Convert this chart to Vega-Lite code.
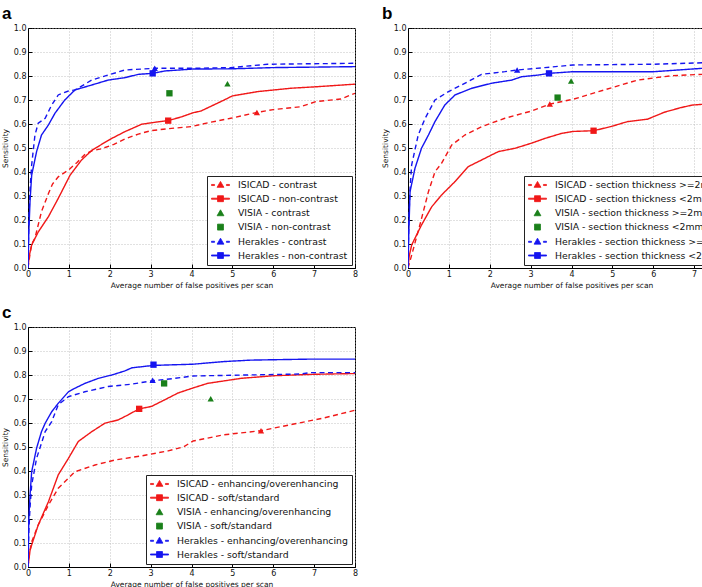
{
  "$schema": "https://vega.github.io/schema/vega-lite/v6.json",
  "background": "white",
  "autosize": {"type": "pad"},
  "padding": {"left": 0, "top": 4, "right": 0, "bottom": 0},
  "spacing": 14,
  "config": {
    "view": {"stroke": "#000", "strokeWidth": 1},
    "axis": {
      "domainColor": "#000", "tickColor": "#000", "tickSize": -4, "labelPadding": 6,
      "labelFont": "DejaVu Sans", "labelFontSize": 8, "labelColor": "#111",
      "labelOverlap": false, "labelFlush": false,
      "titleFont": "DejaVu Sans", "titleFontSize": 7.5, "titleFontWeight": "normal", "titleColor": "#111",
      "gridColor": "#b4b4b4", "gridDash": [1, 2], "gridWidth": 0.8
    },
    "legend": {
      "orient": "bottom-right", "offset": 3, "padding": 4,
      "strokeColor": "#222", "fillColor": "#fff", "cornerRadius": 0,
      "labelFont": "DejaVu Sans", "labelFontSize": 9.3, "labelColor": "#111", "labelLimit": 300,
      "symbolOffset": 4.5, "labelOffset": 12.5, "rowPadding": 2.7, "symbolSize": 81, "symbolStrokeWidth": 0.8
    },
    "title": {
      "font": "Liberation Sans", "fontSize": 17, "fontWeight": "bold", "color": "#000",
      "anchor": "start", "frame": "group", "dx": -26, "offset": 1, "baseline": "alphabetic"
    }
  },
  "datasets": {
    "aLines": [
      {"s": "ISICAD - contrast", "x": 0, "y": 0}, {"s": "ISICAD - contrast", "x": 0.05, "y": 0.06}, {"s": "ISICAD - contrast", "x": 0.09, "y": 0.1}, {"s": "ISICAD - contrast", "x": 0.17, "y": 0.124}, {"s": "ISICAD - contrast", "x": 0.25, "y": 0.18}, {"s": "ISICAD - contrast", "x": 0.33, "y": 0.235}, {"s": "ISICAD - contrast", "x": 0.5, "y": 0.31}, {"s": "ISICAD - contrast", "x": 0.6, "y": 0.35}, {"s": "ISICAD - contrast", "x": 0.74, "y": 0.38}, {"s": "ISICAD - contrast", "x": 0.99, "y": 0.408}, {"s": "ISICAD - contrast", "x": 1.2, "y": 0.44}, {"s": "ISICAD - contrast", "x": 1.4, "y": 0.475}, {"s": "ISICAD - contrast", "x": 1.56, "y": 0.488}, {"s": "ISICAD - contrast", "x": 1.8, "y": 0.497}, {"s": "ISICAD - contrast", "x": 2.1, "y": 0.515}, {"s": "ISICAD - contrast", "x": 2.4, "y": 0.54}, {"s": "ISICAD - contrast", "x": 2.7, "y": 0.558}, {"s": "ISICAD - contrast", "x": 3.0, "y": 0.572}, {"s": "ISICAD - contrast", "x": 3.4, "y": 0.58}, {"s": "ISICAD - contrast", "x": 3.99, "y": 0.589}, {"s": "ISICAD - contrast", "x": 4.4, "y": 0.605}, {"s": "ISICAD - contrast", "x": 4.96, "y": 0.624}, {"s": "ISICAD - contrast", "x": 5.6, "y": 0.648}, {"s": "ISICAD - contrast", "x": 6.0, "y": 0.66}, {"s": "ISICAD - contrast", "x": 6.67, "y": 0.672}, {"s": "ISICAD - contrast", "x": 7.04, "y": 0.693}, {"s": "ISICAD - contrast", "x": 7.65, "y": 0.704}, {"s": "ISICAD - contrast", "x": 8, "y": 0.728},
      {"s": "ISICAD - non-contrast", "x": 0, "y": 0}, {"s": "ISICAD - non-contrast", "x": 0.03, "y": 0.05}, {"s": "ISICAD - non-contrast", "x": 0.09, "y": 0.096}, {"s": "ISICAD - non-contrast", "x": 0.25, "y": 0.15}, {"s": "ISICAD - non-contrast", "x": 0.5, "y": 0.214}, {"s": "ISICAD - non-contrast", "x": 0.74, "y": 0.29}, {"s": "ISICAD - non-contrast", "x": 1.03, "y": 0.387}, {"s": "ISICAD - non-contrast", "x": 1.31, "y": 0.45}, {"s": "ISICAD - non-contrast", "x": 1.56, "y": 0.49}, {"s": "ISICAD - non-contrast", "x": 1.8, "y": 0.515}, {"s": "ISICAD - non-contrast", "x": 2.05, "y": 0.54}, {"s": "ISICAD - non-contrast", "x": 2.37, "y": 0.568}, {"s": "ISICAD - non-contrast", "x": 2.78, "y": 0.599}, {"s": "ISICAD - non-contrast", "x": 3.1, "y": 0.607}, {"s": "ISICAD - non-contrast", "x": 3.43, "y": 0.614}, {"s": "ISICAD - non-contrast", "x": 3.76, "y": 0.63}, {"s": "ISICAD - non-contrast", "x": 4.04, "y": 0.647}, {"s": "ISICAD - non-contrast", "x": 4.23, "y": 0.654}, {"s": "ISICAD - non-contrast", "x": 4.8, "y": 0.7}, {"s": "ISICAD - non-contrast", "x": 5.0, "y": 0.717}, {"s": "ISICAD - non-contrast", "x": 5.62, "y": 0.735}, {"s": "ISICAD - non-contrast", "x": 6.43, "y": 0.749}, {"s": "ISICAD - non-contrast", "x": 7.04, "y": 0.755}, {"s": "ISICAD - non-contrast", "x": 8, "y": 0.766},
      {"s": "Herakles - contrast", "x": 0, "y": 0}, {"s": "Herakles - contrast", "x": 0.02, "y": 0.2}, {"s": "Herakles - contrast", "x": 0.05, "y": 0.33}, {"s": "Herakles - contrast", "x": 0.09, "y": 0.43}, {"s": "Herakles - contrast", "x": 0.17, "y": 0.554}, {"s": "Herakles - contrast", "x": 0.25, "y": 0.603}, {"s": "Herakles - contrast", "x": 0.42, "y": 0.624}, {"s": "Herakles - contrast", "x": 0.58, "y": 0.679}, {"s": "Herakles - contrast", "x": 0.74, "y": 0.721}, {"s": "Herakles - contrast", "x": 0.99, "y": 0.7375}, {"s": "Herakles - contrast", "x": 1.15, "y": 0.742}, {"s": "Herakles - contrast", "x": 1.56, "y": 0.783}, {"s": "Herakles - contrast", "x": 1.96, "y": 0.804}, {"s": "Herakles - contrast", "x": 2.37, "y": 0.825}, {"s": "Herakles - contrast", "x": 3.1, "y": 0.832}, {"s": "Herakles - contrast", "x": 4.04, "y": 0.832}, {"s": "Herakles - contrast", "x": 4.96, "y": 0.835}, {"s": "Herakles - contrast", "x": 5.86, "y": 0.849}, {"s": "Herakles - contrast", "x": 8, "y": 0.853},
      {"s": "Herakles - non-contrast", "x": 0, "y": 0}, {"s": "Herakles - non-contrast", "x": 0.02, "y": 0.15}, {"s": "Herakles - non-contrast", "x": 0.05, "y": 0.28}, {"s": "Herakles - non-contrast", "x": 0.09, "y": 0.387}, {"s": "Herakles - non-contrast", "x": 0.21, "y": 0.485}, {"s": "Herakles - non-contrast", "x": 0.33, "y": 0.554}, {"s": "Herakles - non-contrast", "x": 0.5, "y": 0.596}, {"s": "Herakles - non-contrast", "x": 0.66, "y": 0.645}, {"s": "Herakles - non-contrast", "x": 0.9, "y": 0.7}, {"s": "Herakles - non-contrast", "x": 1.15, "y": 0.742}, {"s": "Herakles - non-contrast", "x": 1.56, "y": 0.7625}, {"s": "Herakles - non-contrast", "x": 1.96, "y": 0.783}, {"s": "Herakles - non-contrast", "x": 2.37, "y": 0.793}, {"s": "Herakles - non-contrast", "x": 2.7, "y": 0.807}, {"s": "Herakles - non-contrast", "x": 3.05, "y": 0.811}, {"s": "Herakles - non-contrast", "x": 3.35, "y": 0.821}, {"s": "Herakles - non-contrast", "x": 4.04, "y": 0.829}, {"s": "Herakles - non-contrast", "x": 5.0, "y": 0.83}, {"s": "Herakles - non-contrast", "x": 6.0, "y": 0.835}, {"s": "Herakles - non-contrast", "x": 8, "y": 0.839}
    ],
    "aPoints": [
      {"s": "ISICAD - contrast", "m": "triangle-up", "x": 5.6, "y": 0.648},
      {"s": "ISICAD - non-contrast", "m": "square", "x": 3.43, "y": 0.614},
      {"s": "VISIA - contrast", "m": "triangle-up", "x": 4.88, "y": 0.768},
      {"s": "VISIA - non-contrast", "m": "square", "x": 3.46, "y": 0.728},
      {"s": "Herakles - contrast", "m": "triangle-up", "x": 3.1, "y": 0.832},
      {"s": "Herakles - non-contrast", "m": "square", "x": 3.05, "y": 0.811}
    ],
    "bLines": [
      {"s": "ISICAD - section thickness >=2mm", "x": 0, "y": 0}, {"s": "ISICAD - section thickness >=2mm", "x": 0.09, "y": 0.054}, {"s": "ISICAD - section thickness >=2mm", "x": 0.29, "y": 0.179}, {"s": "ISICAD - section thickness >=2mm", "x": 0.5, "y": 0.318}, {"s": "ISICAD - section thickness >=2mm", "x": 0.66, "y": 0.401}, {"s": "ISICAD - section thickness >=2mm", "x": 0.82, "y": 0.436}, {"s": "ISICAD - section thickness >=2mm", "x": 1.07, "y": 0.5125}, {"s": "ISICAD - section thickness >=2mm", "x": 1.39, "y": 0.554}, {"s": "ISICAD - section thickness >=2mm", "x": 1.8, "y": 0.589}, {"s": "ISICAD - section thickness >=2mm", "x": 2.37, "y": 0.624}, {"s": "ISICAD - section thickness >=2mm", "x": 3.02, "y": 0.654}, {"s": "ISICAD - section thickness >=2mm", "x": 3.47, "y": 0.683}, {"s": "ISICAD - section thickness >=2mm", "x": 4.04, "y": 0.703}, {"s": "ISICAD - section thickness >=2mm", "x": 4.8, "y": 0.742}, {"s": "ISICAD - section thickness >=2mm", "x": 5.62, "y": 0.783}, {"s": "ISICAD - section thickness >=2mm", "x": 6.43, "y": 0.801}, {"s": "ISICAD - section thickness >=2mm", "x": 7.2, "y": 0.807}, {"s": "ISICAD - section thickness >=2mm", "x": 8, "y": 0.808},
      {"s": "ISICAD - section thickness <2mm", "x": 0, "y": 0}, {"s": "ISICAD - section thickness <2mm", "x": 0.03, "y": 0.05}, {"s": "ISICAD - section thickness <2mm", "x": 0.09, "y": 0.096}, {"s": "ISICAD - section thickness <2mm", "x": 0.33, "y": 0.179}, {"s": "ISICAD - section thickness <2mm", "x": 0.58, "y": 0.255}, {"s": "ISICAD - section thickness <2mm", "x": 0.82, "y": 0.304}, {"s": "ISICAD - section thickness <2mm", "x": 1.15, "y": 0.36}, {"s": "ISICAD - section thickness <2mm", "x": 1.47, "y": 0.422}, {"s": "ISICAD - section thickness <2mm", "x": 1.8, "y": 0.45}, {"s": "ISICAD - section thickness <2mm", "x": 2.21, "y": 0.485}, {"s": "ISICAD - section thickness <2mm", "x": 2.62, "y": 0.499}, {"s": "ISICAD - section thickness <2mm", "x": 3.02, "y": 0.52}, {"s": "ISICAD - section thickness <2mm", "x": 3.35, "y": 0.54}, {"s": "ISICAD - section thickness <2mm", "x": 3.76, "y": 0.561}, {"s": "ISICAD - section thickness <2mm", "x": 4.04, "y": 0.569}, {"s": "ISICAD - section thickness <2mm", "x": 4.54, "y": 0.572}, {"s": "ISICAD - section thickness <2mm", "x": 4.96, "y": 0.589}, {"s": "ISICAD - section thickness <2mm", "x": 5.37, "y": 0.61}, {"s": "ISICAD - section thickness <2mm", "x": 5.86, "y": 0.62}, {"s": "ISICAD - section thickness <2mm", "x": 6.27, "y": 0.649}, {"s": "ISICAD - section thickness <2mm", "x": 6.67, "y": 0.668}, {"s": "ISICAD - section thickness <2mm", "x": 6.96, "y": 0.679}, {"s": "ISICAD - section thickness <2mm", "x": 7.2, "y": 0.682}, {"s": "ISICAD - section thickness <2mm", "x": 8, "y": 0.69},
      {"s": "Herakles - section thickness >=2mm", "x": 0, "y": 0}, {"s": "Herakles - section thickness >=2mm", "x": 0.02, "y": 0.2}, {"s": "Herakles - section thickness >=2mm", "x": 0.05, "y": 0.33}, {"s": "Herakles - section thickness >=2mm", "x": 0.09, "y": 0.43}, {"s": "Herakles - section thickness >=2mm", "x": 0.25, "y": 0.554}, {"s": "Herakles - section thickness >=2mm", "x": 0.42, "y": 0.624}, {"s": "Herakles - section thickness >=2mm", "x": 0.66, "y": 0.7}, {"s": "Herakles - section thickness >=2mm", "x": 0.99, "y": 0.735}, {"s": "Herakles - section thickness >=2mm", "x": 1.31, "y": 0.7625}, {"s": "Herakles - section thickness >=2mm", "x": 1.8, "y": 0.807}, {"s": "Herakles - section thickness >=2mm", "x": 2.37, "y": 0.818}, {"s": "Herakles - section thickness >=2mm", "x": 2.67, "y": 0.825}, {"s": "Herakles - section thickness >=2mm", "x": 3.35, "y": 0.835}, {"s": "Herakles - section thickness >=2mm", "x": 4.04, "y": 0.846}, {"s": "Herakles - section thickness >=2mm", "x": 6.02, "y": 0.849}, {"s": "Herakles - section thickness >=2mm", "x": 7.2, "y": 0.855}, {"s": "Herakles - section thickness >=2mm", "x": 8, "y": 0.857},
      {"s": "Herakles - section thickness <2mm", "x": 0, "y": 0}, {"s": "Herakles - section thickness <2mm", "x": 0.02, "y": 0.15}, {"s": "Herakles - section thickness <2mm", "x": 0.05, "y": 0.318}, {"s": "Herakles - section thickness <2mm", "x": 0.17, "y": 0.415}, {"s": "Herakles - section thickness <2mm", "x": 0.33, "y": 0.499}, {"s": "Herakles - section thickness <2mm", "x": 0.5, "y": 0.554}, {"s": "Herakles - section thickness <2mm", "x": 0.66, "y": 0.61}, {"s": "Herakles - section thickness <2mm", "x": 0.9, "y": 0.679}, {"s": "Herakles - section thickness <2mm", "x": 1.15, "y": 0.721}, {"s": "Herakles - section thickness <2mm", "x": 1.56, "y": 0.749}, {"s": "Herakles - section thickness <2mm", "x": 2.05, "y": 0.77}, {"s": "Herakles - section thickness <2mm", "x": 2.54, "y": 0.783}, {"s": "Herakles - section thickness <2mm", "x": 2.78, "y": 0.797}, {"s": "Herakles - section thickness <2mm", "x": 3.19, "y": 0.804}, {"s": "Herakles - section thickness <2mm", "x": 3.45, "y": 0.811}, {"s": "Herakles - section thickness <2mm", "x": 4.04, "y": 0.818}, {"s": "Herakles - section thickness <2mm", "x": 6.02, "y": 0.818}, {"s": "Herakles - section thickness <2mm", "x": 7.2, "y": 0.832}, {"s": "Herakles - section thickness <2mm", "x": 8, "y": 0.835}
    ],
    "bPoints": [
      {"s": "ISICAD - section thickness >=2mm", "m": "triangle-up", "x": 3.47, "y": 0.683},
      {"s": "ISICAD - section thickness <2mm", "m": "square", "x": 4.54, "y": 0.572},
      {"s": "VISIA - section thickness >=2mm", "m": "triangle-up", "x": 3.99, "y": 0.779},
      {"s": "VISIA - section thickness <2mm", "m": "square", "x": 3.66, "y": 0.71},
      {"s": "Herakles - section thickness >=2mm", "m": "triangle-up", "x": 2.67, "y": 0.825},
      {"s": "Herakles - section thickness <2mm", "m": "square", "x": 3.45, "y": 0.811}
    ],
    "cLines": [
      {"s": "ISICAD - enhancing/overenhancing", "x": 0, "y": 0}, {"s": "ISICAD - enhancing/overenhancing", "x": 0.03, "y": 0.05}, {"s": "ISICAD - enhancing/overenhancing", "x": 0.09, "y": 0.105}, {"s": "ISICAD - enhancing/overenhancing", "x": 0.25, "y": 0.175}, {"s": "ISICAD - enhancing/overenhancing", "x": 0.5, "y": 0.258}, {"s": "ISICAD - enhancing/overenhancing", "x": 0.74, "y": 0.328}, {"s": "ISICAD - enhancing/overenhancing", "x": 1.15, "y": 0.397}, {"s": "ISICAD - enhancing/overenhancing", "x": 1.64, "y": 0.425}, {"s": "ISICAD - enhancing/overenhancing", "x": 2.13, "y": 0.446}, {"s": "ISICAD - enhancing/overenhancing", "x": 2.78, "y": 0.463}, {"s": "ISICAD - enhancing/overenhancing", "x": 3.43, "y": 0.484}, {"s": "ISICAD - enhancing/overenhancing", "x": 3.8, "y": 0.5}, {"s": "ISICAD - enhancing/overenhancing", "x": 4.04, "y": 0.525}, {"s": "ISICAD - enhancing/overenhancing", "x": 4.8, "y": 0.551}, {"s": "ISICAD - enhancing/overenhancing", "x": 5.7, "y": 0.568}, {"s": "ISICAD - enhancing/overenhancing", "x": 6.43, "y": 0.593}, {"s": "ISICAD - enhancing/overenhancing", "x": 7.24, "y": 0.621}, {"s": "ISICAD - enhancing/overenhancing", "x": 8, "y": 0.653},
      {"s": "ISICAD - soft/standard", "x": 0, "y": 0}, {"s": "ISICAD - soft/standard", "x": 0.05, "y": 0.07}, {"s": "ISICAD - soft/standard", "x": 0.09, "y": 0.092}, {"s": "ISICAD - soft/standard", "x": 0.25, "y": 0.175}, {"s": "ISICAD - soft/standard", "x": 0.5, "y": 0.272}, {"s": "ISICAD - soft/standard", "x": 0.74, "y": 0.384}, {"s": "ISICAD - soft/standard", "x": 0.99, "y": 0.453}, {"s": "ISICAD - soft/standard", "x": 1.23, "y": 0.523}, {"s": "ISICAD - soft/standard", "x": 1.56, "y": 0.564}, {"s": "ISICAD - soft/standard", "x": 1.88, "y": 0.599}, {"s": "ISICAD - soft/standard", "x": 2.21, "y": 0.613}, {"s": "ISICAD - soft/standard", "x": 2.45, "y": 0.634}, {"s": "ISICAD - soft/standard", "x": 2.72, "y": 0.659}, {"s": "ISICAD - soft/standard", "x": 3.02, "y": 0.669}, {"s": "ISICAD - soft/standard", "x": 3.35, "y": 0.697}, {"s": "ISICAD - soft/standard", "x": 3.67, "y": 0.725}, {"s": "ISICAD - soft/standard", "x": 4.04, "y": 0.746}, {"s": "ISICAD - soft/standard", "x": 4.39, "y": 0.765}, {"s": "ISICAD - soft/standard", "x": 5.21, "y": 0.786}, {"s": "ISICAD - soft/standard", "x": 6.02, "y": 0.797}, {"s": "ISICAD - soft/standard", "x": 7.0, "y": 0.803}, {"s": "ISICAD - soft/standard", "x": 8, "y": 0.806},
      {"s": "Herakles - enhancing/overenhancing", "x": 0, "y": 0}, {"s": "Herakles - enhancing/overenhancing", "x": 0.02, "y": 0.15}, {"s": "Herakles - enhancing/overenhancing", "x": 0.05, "y": 0.25}, {"s": "Herakles - enhancing/overenhancing", "x": 0.09, "y": 0.342}, {"s": "Herakles - enhancing/overenhancing", "x": 0.21, "y": 0.453}, {"s": "Herakles - enhancing/overenhancing", "x": 0.29, "y": 0.495}, {"s": "Herakles - enhancing/overenhancing", "x": 0.42, "y": 0.564}, {"s": "Herakles - enhancing/overenhancing", "x": 0.58, "y": 0.606}, {"s": "Herakles - enhancing/overenhancing", "x": 0.74, "y": 0.676}, {"s": "Herakles - enhancing/overenhancing", "x": 0.99, "y": 0.71}, {"s": "Herakles - enhancing/overenhancing", "x": 1.39, "y": 0.73}, {"s": "Herakles - enhancing/overenhancing", "x": 1.96, "y": 0.752}, {"s": "Herakles - enhancing/overenhancing", "x": 2.54, "y": 0.762}, {"s": "Herakles - enhancing/overenhancing", "x": 3.05, "y": 0.776}, {"s": "Herakles - enhancing/overenhancing", "x": 3.59, "y": 0.786}, {"s": "Herakles - enhancing/overenhancing", "x": 4.04, "y": 0.796}, {"s": "Herakles - enhancing/overenhancing", "x": 6.67, "y": 0.804}, {"s": "Herakles - enhancing/overenhancing", "x": 6.9, "y": 0.81}, {"s": "Herakles - enhancing/overenhancing", "x": 8, "y": 0.81},
      {"s": "Herakles - soft/standard", "x": 0, "y": 0}, {"s": "Herakles - soft/standard", "x": 0.02, "y": 0.2}, {"s": "Herakles - soft/standard", "x": 0.05, "y": 0.3}, {"s": "Herakles - soft/standard", "x": 0.09, "y": 0.397}, {"s": "Herakles - soft/standard", "x": 0.21, "y": 0.495}, {"s": "Herakles - soft/standard", "x": 0.33, "y": 0.564}, {"s": "Herakles - soft/standard", "x": 0.42, "y": 0.599}, {"s": "Herakles - soft/standard", "x": 0.58, "y": 0.647}, {"s": "Herakles - soft/standard", "x": 0.74, "y": 0.682}, {"s": "Herakles - soft/standard", "x": 0.99, "y": 0.73}, {"s": "Herakles - soft/standard", "x": 1.15, "y": 0.745}, {"s": "Herakles - soft/standard", "x": 1.39, "y": 0.765}, {"s": "Herakles - soft/standard", "x": 1.72, "y": 0.786}, {"s": "Herakles - soft/standard", "x": 2.05, "y": 0.8}, {"s": "Herakles - soft/standard", "x": 2.37, "y": 0.817}, {"s": "Herakles - soft/standard", "x": 2.54, "y": 0.83}, {"s": "Herakles - soft/standard", "x": 3.07, "y": 0.84}, {"s": "Herakles - soft/standard", "x": 4.04, "y": 0.845}, {"s": "Herakles - soft/standard", "x": 4.8, "y": 0.856}, {"s": "Herakles - soft/standard", "x": 5.45, "y": 0.862}, {"s": "Herakles - soft/standard", "x": 6.84, "y": 0.866}, {"s": "Herakles - soft/standard", "x": 8, "y": 0.866}
    ],
    "cPoints": [
      {"s": "ISICAD - enhancing/overenhancing", "m": "triangle-up", "x": 5.7, "y": 0.568},
      {"s": "ISICAD - soft/standard", "m": "square", "x": 2.72, "y": 0.659},
      {"s": "VISIA - enhancing/overenhancing", "m": "triangle-up", "x": 4.47, "y": 0.701},
      {"s": "VISIA - soft/standard", "m": "square", "x": 3.33, "y": 0.765},
      {"s": "Herakles - enhancing/overenhancing", "m": "triangle-up", "x": 3.05, "y": 0.778},
      {"s": "Herakles - soft/standard", "m": "square", "x": 3.07, "y": 0.843}
    ]
  },
  "resolve": {
    "scale": {"color": "independent", "fill": "independent", "shape": "independent", "strokeDash": "independent"},
    "legend": {"color": "independent", "fill": "independent", "shape": "independent", "strokeDash": "independent"}
  },
  "vconcat": [
    {
      "hconcat": [
        {
          "width": 327, "height": 240,
          "title": {"text": "a"},
          "encoding": {
            "x": {"field": "x", "type": "quantitative", "scale": {"domain": [0, 8], "nice": false}, "axis": {"values": [0, 1, 2, 3, 4, 5, 6, 7, 8], "title": "Average number of false positives per scan", "titlePadding": 3}},
            "y": {"field": "y", "type": "quantitative", "scale": {"domain": [0, 1], "nice": false}, "axis": {"values": [0, 0.1, 0.2, 0.3, 0.4, 0.5, 0.6, 0.7, 0.8, 0.9, 1.0], "format": ".1f", "title": "Sensitivity", "titlePadding": 4}}
          },
          "layer": [
            {
              "data": {"values": []},
              "mark": {"type": "point", "filled": false, "opacity": 1},
              "encoding": {
                "color": {"field": "s", "type": "nominal", "scale": {"domain": ["ISICAD - contrast", "ISICAD - non-contrast", "VISIA - contrast", "VISIA - non-contrast", "Herakles - contrast", "Herakles - non-contrast"], "range": ["#f01818", "#f01818", "#1a801a", "#1a801a", "#1515f0", "#1515f0"]}, "legend": {"title": null}},
                "shape": {"field": "s", "type": "nominal", "scale": {"domain": ["ISICAD - contrast", "ISICAD - non-contrast", "VISIA - contrast", "VISIA - non-contrast", "Herakles - contrast", "Herakles - non-contrast"], "range": [
                  "M-2,-0.12H-1.32V0.12H-2ZM1.32,-0.12H2V0.12H1.32ZM0,-0.8L0.76,0.52L-0.76,0.52Z",
                  "M-2,-0.12H2V0.12H-2ZM-0.66,-0.66H0.66V0.66H-0.66Z",
                  "M0,-0.8L0.76,0.52L-0.76,0.52Z",
                  "M-0.66,-0.66H0.66V0.66H-0.66Z",
                  "M-2,-0.12H-1.32V0.12H-2ZM1.32,-0.12H2V0.12H1.32ZM0,-0.8L0.76,0.52L-0.76,0.52Z",
                  "M-2,-0.12H2V0.12H-2ZM-0.66,-0.66H0.66V0.66H-0.66Z"
                ]}}
              }
            },
            {
              "data": {"name": "aLines"},
              "mark": {"type": "line", "strokeWidth": 1.4, "clip": true},
              "encoding": {
                "color": {"field": "s", "type": "nominal"},
                "strokeDash": {"field": "s", "type": "nominal", "scale": {"domain": ["ISICAD - contrast", "ISICAD - non-contrast", "Herakles - contrast", "Herakles - non-contrast"], "range": [[5, 3.5], [1, 0], [5, 3.5], [1, 0]]}, "legend": null}
              }
            },
            {
              "data": {"name": "aPoints"},
              "mark": {"type": "point", "filled": true, "opacity": 1, "size": 40},
              "encoding": {
                "fill": {"field": "s", "type": "nominal", "scale": {"domain": ["ISICAD - contrast", "ISICAD - non-contrast", "VISIA - contrast", "VISIA - non-contrast", "Herakles - contrast", "Herakles - non-contrast"], "range": ["#f01818", "#f01818", "#1a801a", "#1a801a", "#1515f0", "#1515f0"]}, "legend": null},
                "shape": {"field": "m", "type": "nominal", "scale": null}
              }
            }
          ]
        },
        {
          "width": 327, "height": 240,
          "title": {"text": "b"},
          "encoding": {
            "x": {"field": "x", "type": "quantitative", "scale": {"domain": [0, 8], "nice": false}, "axis": {"values": [0, 1, 2, 3, 4, 5, 6, 7, 8], "title": "Average number of false positives per scan", "titlePadding": 3}},
            "y": {"field": "y", "type": "quantitative", "scale": {"domain": [0, 1], "nice": false}, "axis": {"values": [0, 0.1, 0.2, 0.3, 0.4, 0.5, 0.6, 0.7, 0.8, 0.9, 1.0], "format": ".1f", "title": "Sensitivity", "titlePadding": 4}}
          },
          "layer": [
            {
              "data": {"values": []},
              "mark": {"type": "point", "filled": false, "opacity": 1},
              "encoding": {
                "color": {"field": "s", "type": "nominal", "scale": {"domain": ["ISICAD - section thickness >=2mm", "ISICAD - section thickness <2mm", "VISIA - section thickness >=2mm", "VISIA - section thickness <2mm", "Herakles - section thickness >=2mm", "Herakles - section thickness <2mm"], "range": ["#f01818", "#f01818", "#1a801a", "#1a801a", "#1515f0", "#1515f0"]}, "legend": {"title": null}},
                "shape": {"field": "s", "type": "nominal", "scale": {"domain": ["ISICAD - section thickness >=2mm", "ISICAD - section thickness <2mm", "VISIA - section thickness >=2mm", "VISIA - section thickness <2mm", "Herakles - section thickness >=2mm", "Herakles - section thickness <2mm"], "range": [
                  "M-2,-0.12H-1.32V0.12H-2ZM1.32,-0.12H2V0.12H1.32ZM0,-0.8L0.76,0.52L-0.76,0.52Z",
                  "M-2,-0.12H2V0.12H-2ZM-0.66,-0.66H0.66V0.66H-0.66Z",
                  "M0,-0.8L0.76,0.52L-0.76,0.52Z",
                  "M-0.66,-0.66H0.66V0.66H-0.66Z",
                  "M-2,-0.12H-1.32V0.12H-2ZM1.32,-0.12H2V0.12H1.32ZM0,-0.8L0.76,0.52L-0.76,0.52Z",
                  "M-2,-0.12H2V0.12H-2ZM-0.66,-0.66H0.66V0.66H-0.66Z"
                ]}}
              }
            },
            {
              "data": {"name": "bLines"},
              "mark": {"type": "line", "strokeWidth": 1.4, "clip": true},
              "encoding": {
                "color": {"field": "s", "type": "nominal"},
                "strokeDash": {"field": "s", "type": "nominal", "scale": {"domain": ["ISICAD - section thickness >=2mm", "ISICAD - section thickness <2mm", "Herakles - section thickness >=2mm", "Herakles - section thickness <2mm"], "range": [[5, 3.5], [1, 0], [5, 3.5], [1, 0]]}, "legend": null}
              }
            },
            {
              "data": {"name": "bPoints"},
              "mark": {"type": "point", "filled": true, "opacity": 1, "size": 40},
              "encoding": {
                "fill": {"field": "s", "type": "nominal", "scale": {"domain": ["ISICAD - section thickness >=2mm", "ISICAD - section thickness <2mm", "VISIA - section thickness >=2mm", "VISIA - section thickness <2mm", "Herakles - section thickness >=2mm", "Herakles - section thickness <2mm"], "range": ["#f01818", "#f01818", "#1a801a", "#1a801a", "#1515f0", "#1515f0"]}, "legend": null},
                "shape": {"field": "m", "type": "nominal", "scale": null}
              }
            }
          ]
        }
      ],
      "spacing": 53,
      "bounds": "flush",
      "resolve": {
        "scale": {"color": "independent", "fill": "independent", "shape": "independent", "strokeDash": "independent"},
        "legend": {"color": "independent", "fill": "independent", "shape": "independent", "strokeDash": "independent"}
      }
    },
    {
      "width": 327, "height": 240,
      "title": {"text": "c"},
      "encoding": {
        "x": {"field": "x", "type": "quantitative", "scale": {"domain": [0, 8], "nice": false}, "axis": {"values": [0, 1, 2, 3, 4, 5, 6, 7, 8], "title": "Average number of false positives per scan", "titlePadding": 3}},
        "y": {"field": "y", "type": "quantitative", "scale": {"domain": [0, 1], "nice": false}, "axis": {"values": [0, 0.1, 0.2, 0.3, 0.4, 0.5, 0.6, 0.7, 0.8, 0.9, 1.0], "format": ".1f", "title": "Sensitivity", "titlePadding": 4}}
      },
      "layer": [
        {
          "data": {"values": []},
          "mark": {"type": "point", "filled": false, "opacity": 1},
          "encoding": {
            "color": {"field": "s", "type": "nominal", "scale": {"domain": ["ISICAD - enhancing/overenhancing", "ISICAD - soft/standard", "VISIA - enhancing/overenhancing", "VISIA - soft/standard", "Herakles - enhancing/overenhancing", "Herakles - soft/standard"], "range": ["#f01818", "#f01818", "#1a801a", "#1a801a", "#1515f0", "#1515f0"]}, "legend": {"title": null}},
            "shape": {"field": "s", "type": "nominal", "scale": {"domain": ["ISICAD - enhancing/overenhancing", "ISICAD - soft/standard", "VISIA - enhancing/overenhancing", "VISIA - soft/standard", "Herakles - enhancing/overenhancing", "Herakles - soft/standard"], "range": [
              "M-2,-0.12H-1.32V0.12H-2ZM1.32,-0.12H2V0.12H1.32ZM0,-0.8L0.76,0.52L-0.76,0.52Z",
              "M-2,-0.12H2V0.12H-2ZM-0.66,-0.66H0.66V0.66H-0.66Z",
              "M0,-0.8L0.76,0.52L-0.76,0.52Z",
              "M-0.66,-0.66H0.66V0.66H-0.66Z",
              "M-2,-0.12H-1.32V0.12H-2ZM1.32,-0.12H2V0.12H1.32ZM0,-0.8L0.76,0.52L-0.76,0.52Z",
              "M-2,-0.12H2V0.12H-2ZM-0.66,-0.66H0.66V0.66H-0.66Z"
            ]}}
          }
        },
        {
          "data": {"name": "cLines"},
          "mark": {"type": "line", "strokeWidth": 1.4, "clip": true},
          "encoding": {
            "color": {"field": "s", "type": "nominal"},
            "strokeDash": {"field": "s", "type": "nominal", "scale": {"domain": ["ISICAD - enhancing/overenhancing", "ISICAD - soft/standard", "Herakles - enhancing/overenhancing", "Herakles - soft/standard"], "range": [[5, 3.5], [1, 0], [5, 3.5], [1, 0]]}, "legend": null}
          }
        },
        {
          "data": {"name": "cPoints"},
          "mark": {"type": "point", "filled": true, "opacity": 1, "size": 40},
          "encoding": {
            "fill": {"field": "s", "type": "nominal", "scale": {"domain": ["ISICAD - enhancing/overenhancing", "ISICAD - soft/standard", "VISIA - enhancing/overenhancing", "VISIA - soft/standard", "Herakles - enhancing/overenhancing", "Herakles - soft/standard"], "range": ["#f01818", "#f01818", "#1a801a", "#1a801a", "#1515f0", "#1515f0"]}, "legend": null},
            "shape": {"field": "m", "type": "nominal", "scale": null}
          }
        }
      ]
    }
  ]
}
